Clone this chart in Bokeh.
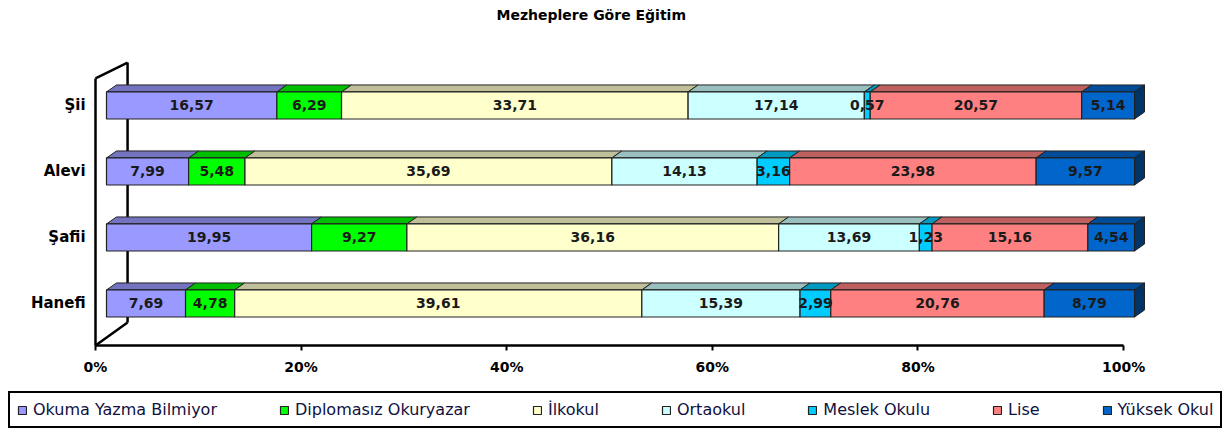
from bokeh.plotting import figure
from bokeh.models import Range1d, FixedTicker, Legend, LegendItem
from bokeh.core.properties import value
from bokeh.embed import file_html
from bokeh.resources import INLINE

# ---------------- data ----------------
categories = ["Hanefi", "Şafii", "Alevi", "Şii"]          # bottom -> top
series = ["Okuma Yazma Bilmiyor", "Diplomasız Okuryazar", "İlkokul",
          "Ortaokul", "Meslek Okulu", "Lise", "Yüksek Okul"]
okuma_yazma = [7.69, 19.95, 7.99, 16.57]
diplomasiz = [4.78, 9.27, 5.48, 6.29]
ilkokul = [39.61, 36.16, 35.69, 33.71]
ortaokul = [15.39, 13.69, 14.13, 17.14]
meslek = [2.99, 1.23, 3.16, 0.57]
lise = [20.76, 15.16, 23.98, 20.57]
yuksek = [8.79, 4.54, 9.57, 5.14]
x_ticks = [0, 20, 40, 60, 80, 100]
x_tick_labels = ["0%", "20%", "40%", "60%", "80%", "100%"]
title_text = "Mezheplere Göre Eğitim"

values = [okuma_yazma, diplomasiz, ilkokul, ortaokul, meslek, lise, yuksek]

# ---------------- style ----------------
front_colors = ["#9999FF", "#00FF00", "#FFFFCC", "#CCFFFF", "#00CCFF", "#FF8080", "#0066CC"]
top_colors = ["#7373BF", "#00BF00", "#BFBF99", "#99BFBF", "#0099BF", "#BF6060", "#004C99"]
side_color = "#003366"
BAR_H = 0.41      # front face height (category units)
DX = 0.97         # 3D depth, x
DY = 0.106        # 3D depth, y
BAR_SHIFT = 1.07  # bars sit behind the floor's front edge
FONT = "DejaVu Sans"

X0, X1 = -9.241, 110.21
Y0, Y1 = -1.970, 4.227
floor_y = -0.636

p = figure(width=1228, height=433, x_range=Range1d(X0, X1), y_range=Range1d(Y0, Y1),
           output_backend="svg", toolbar_location=None, y_axis_location=None,
           min_border_left=0, min_border_right=0, min_border_top=24, min_border_bottom=0)
p.extra_x_ranges = {"bars": Range1d(X0 - BAR_SHIFT, X1 - BAR_SHIFT)}
p.outline_line_color = None
p.xgrid.visible = False
p.ygrid.visible = False
p.background_fill_color = "white"
p.border_fill_color = "white"

# title
p.title.text = title_text
p.title.align = "left"
p.title.offset = 496
p.title.standoff = 0
p.title.vertical_align = "top"
p.title.text_font = FONT
p.title.text_font_size = "14px"
p.title.text_font_style = "bold"
p.title.text_color = "black"

# walls / floor edge (3D frame)
wall_x0, wall_x1 = 0.0, 3.12
p.multi_line(xs=[[wall_x0, wall_x0], [wall_x1, wall_x1], [wall_x0, wall_x1], [wall_x0, wall_x1], [x_ticks[0], x_ticks[-1]]],
             ys=[[floor_y, 3.41], [-0.288, 3.65], [3.41, 3.65], [floor_y, -0.288], [floor_y, floor_y]],
             line_color="black", line_width=2.5)

# bars
renderers = []
n = len(categories)
totals = [sum(v[i] for v in values) for i in range(n)]
cum = [0.0] * n
for k, (name, vals) in enumerate(zip(series, values)):
    shares = [vals[i] / totals[i] * 100 for i in range(n)]
    left = cum[:]
    right = [cum[i] + shares[i] for i in range(n)]
    ys = list(range(n))
    bottoms = [y - BAR_H / 2 for y in ys]
    tops = [y + BAR_H / 2 for y in ys]
    p.patches(xs=[[left[i], right[i], right[i] + DX, left[i] + DX] for i in range(n)],
              ys=[[tops[i], tops[i], tops[i] + DY, tops[i] + DY] for i in range(n)],
              fill_color=top_colors[k], line_color="#222222", line_width=1, x_range_name="bars")
    r = p.quad(left=left, right=right, bottom=bottoms, top=tops,
               fill_color=front_colors[k], line_color="#222222", line_width=1.2, x_range_name="bars")
    renderers.append(r)
    if k == len(series) - 1:
        p.patches(xs=[[right[i], right[i] + DX, right[i] + DX, right[i]] for i in range(n)],
                  ys=[[bottoms[i], bottoms[i] + DY, tops[i] + DY, tops[i]] for i in range(n)],
                  fill_color=side_color, line_color="#222222", line_width=1, x_range_name="bars")
    cum = right

# value labels
cum = [0.0] * n
for k, vals in enumerate(values):
    shares = [vals[i] / totals[i] * 100 for i in range(n)]
    mids = [cum[i] + shares[i] / 2 for i in range(n)]
    p.text(x=mids, y=list(range(n)), text=[f"{v:.2f}".replace(".", ",") for v in vals],
           text_align="center", text_baseline="middle", text_font=value(FONT),
           text_font_style="bold", text_font_size="14px", text_color="#1a1a1a",
           x_range_name="bars")
    cum = [cum[i] + shares[i] for i in range(n)]

# category labels (left of the wall)
p.text(x=[-0.97] * n, y=list(range(n)), text=categories, text_align="right",
       text_baseline="middle", text_font=value(FONT), text_font_style="bold",
       text_font_size="15px", text_color="black")

# x axis drawn along the floor's front edge
p.xaxis.fixed_location = floor_y
p.xaxis.ticker = FixedTicker(ticks=x_ticks)
p.xaxis.major_label_overrides = {t: l for t, l in zip(x_ticks, x_tick_labels)}
p.xaxis.axis_line_color = None
p.xaxis.major_tick_in = 0
p.xaxis.major_tick_out = 5
p.xaxis.major_tick_line_width = 2
p.xaxis.major_tick_line_color = "black"
p.xaxis.minor_tick_line_color = None
p.xaxis.major_label_standoff = 9
p.xaxis.major_label_text_font = FONT
p.xaxis.major_label_text_font_size = "14px"
p.xaxis.major_label_text_font_style = "bold"
p.xaxis.major_label_text_color = "black"

# legend
legend = Legend(items=[LegendItem(label=s, renderers=[r]) for s, r in zip(series, renderers)],
                orientation="horizontal", location=(8, 5), margin=0,
                label_text_font=FONT, label_text_font_size="16px", label_text_color="#101040",
                glyph_width=10, glyph_height=10, label_standoff=6, spacing=62, padding=7,
                border_line_color="black", border_line_width=2, border_line_alpha=1.0)
p.add_layout(legend, "center")

open("out.html", "w").write(file_html(p, INLINE))
